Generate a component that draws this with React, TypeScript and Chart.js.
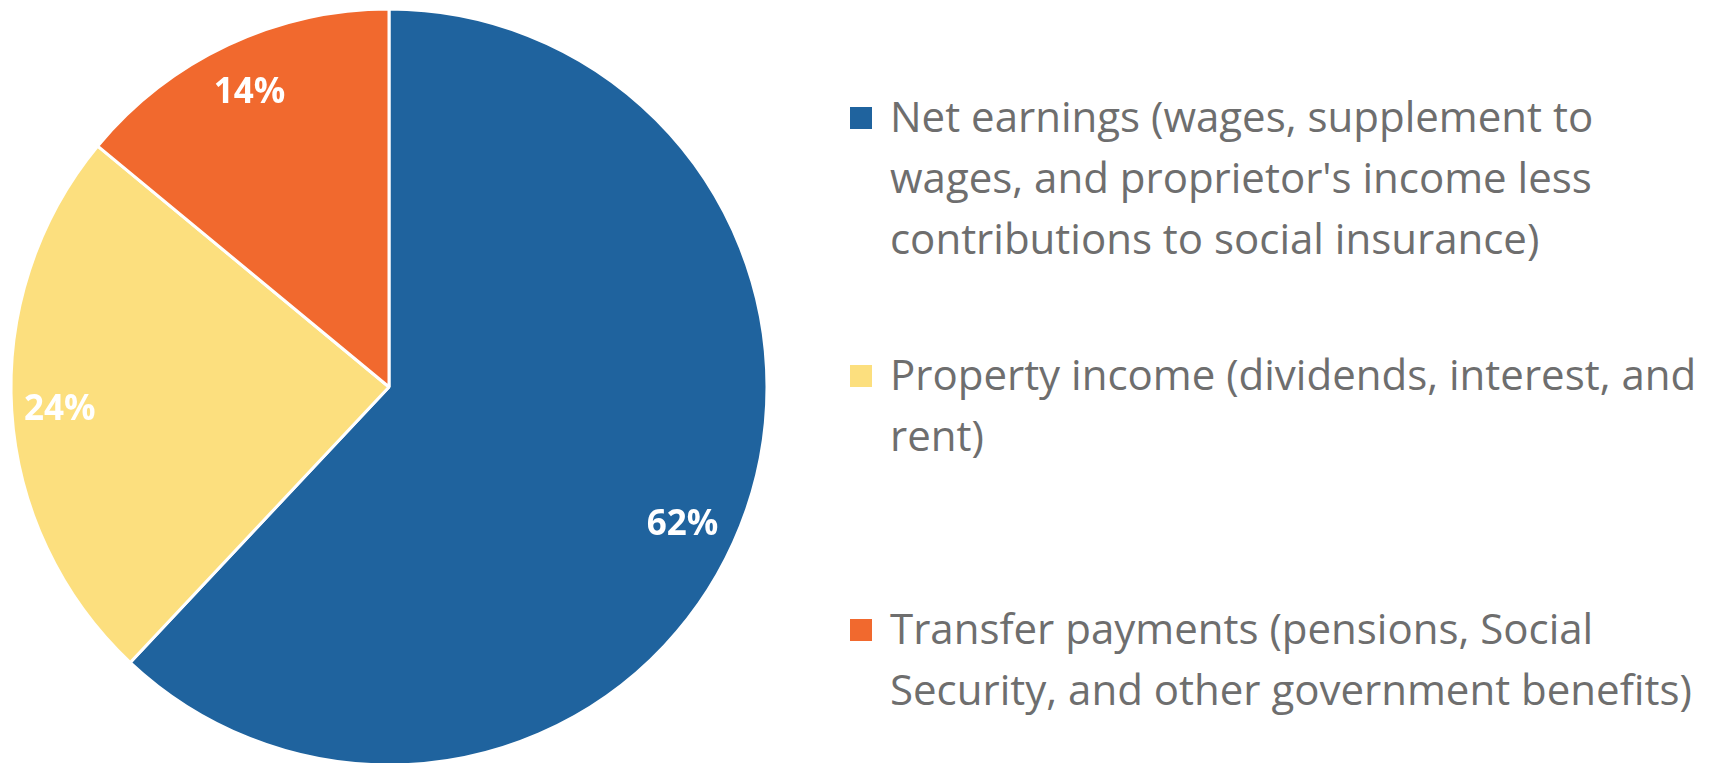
import React, { useEffect, useRef } from "react";
import { Chart, registerables } from "chart.js";

Chart.register(...registerables);

const categories = [
  "Net earnings (wages, supplement to wages, and proprietor's income less contributions to social insurance)",
  "Property income (dividends, interest, and rent)",
  "Transfer payments (pensions, Social Security, and other government benefits)",
];
const legendLines = [
  ["Net earnings (wages, supplement to", "wages, and proprietor's income less", "contributions to social insurance)"],
  ["Property income (dividends, interest, and", "rent)"],
  ["Transfer payments (pensions, Social", "Security, and other government benefits)"],
];
const shares = [62, 24, 14];
const colors = ["#1F639E", "#FCDF7E", "#F1692E"];
const legendTops = [85, 343, 597];
// label placement tweaks (angle offset in degrees, radius fraction)
const labelAngleNudge = [3.1, 0, 0];
const labelRadiusFrac = [0.855, 0.873, 0.866];

const labelPlugin = {
  id: "sliceLabels",
  afterDatasetsDraw(chart: any) {
    const ctx = chart.ctx;
    const meta = chart.getDatasetMeta(0);
    const data = chart.data.datasets[0].data;
    const size = 35;
    ctx.save();
    ctx.fillStyle = "#FFFFFF";
    ctx.font = `bold ${size}px 'Open Sans'`;
    ctx.textAlign = "center";
    ctx.textBaseline = "alphabetic";
    meta.data.forEach((arc: any, i: number) => {
      const p = arc.getProps(["x", "y", "startAngle", "endAngle", "outerRadius"], true);
      const mid = (p.startAngle + p.endAngle) / 2 + (labelAngleNudge[i] * Math.PI) / 180;
      const r = p.outerRadius * labelRadiusFrac[i];
      const cx = p.x + Math.cos(mid) * r;
      const cy = p.y + Math.sin(mid) * r;
      ctx.fillText(`${data[i]}%`, cx, cy + size * 0.357);
    });
    ctx.restore();
  },
};

export default function App() {
  const ref = useRef<HTMLCanvasElement | null>(null);
  useEffect(() => {
    document.body.style.margin = "0";
    const canvas = ref.current;
    if (!canvas) return;
    const chart = new Chart(canvas, {
      type: "pie",
      data: {
        labels: categories,
        datasets: [
          {
            data: shares,
            backgroundColor: colors,
            borderColor: "#FFFFFF",
            borderWidth: 3,
            hoverOffset: 0,
          },
        ],
      },
      options: {
        responsive: false,
        animation: false,
        radius: 378,
        layout: { padding: 0 },
        plugins: {
          legend: { display: false },
          tooltip: { enabled: false },
        },
      } as any,
      plugins: [labelPlugin],
    });
    return () => chart.destroy();
  }, []);

  return (
    <div
      style={{
        position: "relative",
        width: 1709,
        height: 763,
        overflow: "hidden",
        background: "#FFFFFF",
      }}
    >
      <canvas
        ref={ref}
        width={778}
        height={774}
        style={{ position: "absolute", left: 0, top: 0, width: 778, height: 774 }}
      />
      {legendLines.map((lines, i) => (
        <div
          key={i}
          style={{
            position: "absolute",
            left: 850,
            top: legendTops[i],
            display: "flex",
            alignItems: "flex-start",
          }}
        >
          <div
            style={{
              width: 22,
              height: 22,
              marginTop: 22,
              background: colors[i],
              flex: "0 0 auto",
            }}
          />
          <div
            style={{
              marginLeft: 18,
              fontFamily: "'Open Sans', sans-serif",
              fontSize: 42,
              lineHeight: "61px",
              color: "#6E6E6E",
              whiteSpace: "nowrap",
            }}
          >
            {lines.map((ln, j) => (
              <div key={j}>{ln}</div>
            ))}
          </div>
        </div>
      ))}
    </div>
  );
}
